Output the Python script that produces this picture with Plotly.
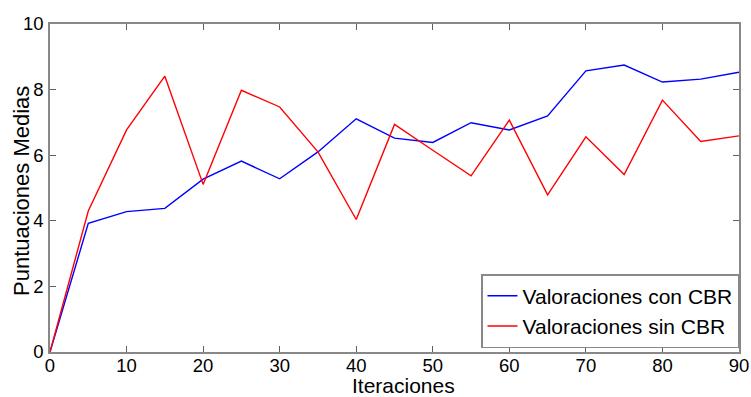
import plotly.graph_objects as go

iteraciones = [0, 5, 10, 15, 20, 25, 30, 35, 40, 45, 50, 55, 60, 65, 70, 75, 80, 85, 90]
con_cbr = [0, 3.92, 4.28, 4.38, 5.27, 5.82, 5.28, 6.1, 7.11, 6.52, 6.39, 6.99, 6.77, 7.2, 8.57, 8.75, 8.23, 8.32, 8.53]
sin_cbr = [0, 4.3, 6.77, 8.41, 5.11, 7.98, 7.47, 6.1, 4.04, 6.94, 6.15, 5.37, 7.07, 4.79, 6.56, 5.41, 7.68, 6.42, 6.59]
x_ticks = [0, 10, 20, 30, 40, 50, 60, 70, 80, 90]
y_ticks = [0, 2, 4, 6, 8, 10]
x_title = "Iteraciones"
y_title = "Puntuaciones Medias"

FONT = "Liberation Sans, Arial"

fig = go.Figure()
fig.add_trace(go.Scatter(x=iteraciones, y=con_cbr, mode="lines", name="Valoraciones con CBR",
                         line=dict(color="#0000ff", width=1.4)))
fig.add_trace(go.Scatter(x=iteraciones, y=sin_cbr, mode="lines", name="Valoraciones sin CBR",
                         line=dict(color="#ff0000", width=1.4)))

axis_common = dict(showline=True, mirror="ticks", linecolor="#888888", linewidth=1.5,
                   ticks="inside", ticklen=6, tickcolor="#606060", showgrid=False, zeroline=False,
                   automargin=False,
                   tickfont=dict(family=FONT, size=18.5, color="black"))

fig.update_xaxes(range=[0, 90], tickvals=x_ticks, ticklabelstandoff=-4, **axis_common)
fig.update_yaxes(range=[0, 10], tickvals=y_ticks, ticklabelstandoff=1, **axis_common)

fig.add_annotation(text=x_title, xref="paper", yref="paper", x=0.5, y=0,
                   xanchor="center", yanchor="bottom", xshift=9, yshift=-46, showarrow=False,
                   borderpad=0, font=dict(family=FONT, size=21, color="black"))
fig.add_annotation(text=y_title, xref="paper", yref="paper", x=0, y=0.5, textangle=-90,
                   xanchor="center", yanchor="middle", xshift=-29, yshift=-3, showarrow=False,
                   font=dict(family=FONT, size=22, color="black"))

fig.update_layout(
    width=751, height=397,
    margin=dict(l=50, r=12, t=24, b=45),
    paper_bgcolor="white", plot_bgcolor="white",
    font=dict(family=FONT, color="black"),
    legend=dict(x=1, y=0.012, xanchor="right", yanchor="bottom",
                bgcolor="white", bordercolor="#888888", borderwidth=1.5,
                font=dict(family=FONT, size=21, color="black"),
                itemwidth=30, tracegroupgap=0),
)

fig.write_html("out.html", config={"displayModeBar": False},
               post_script="document.body.style.margin='0';document.body.style.overflow='hidden';")
